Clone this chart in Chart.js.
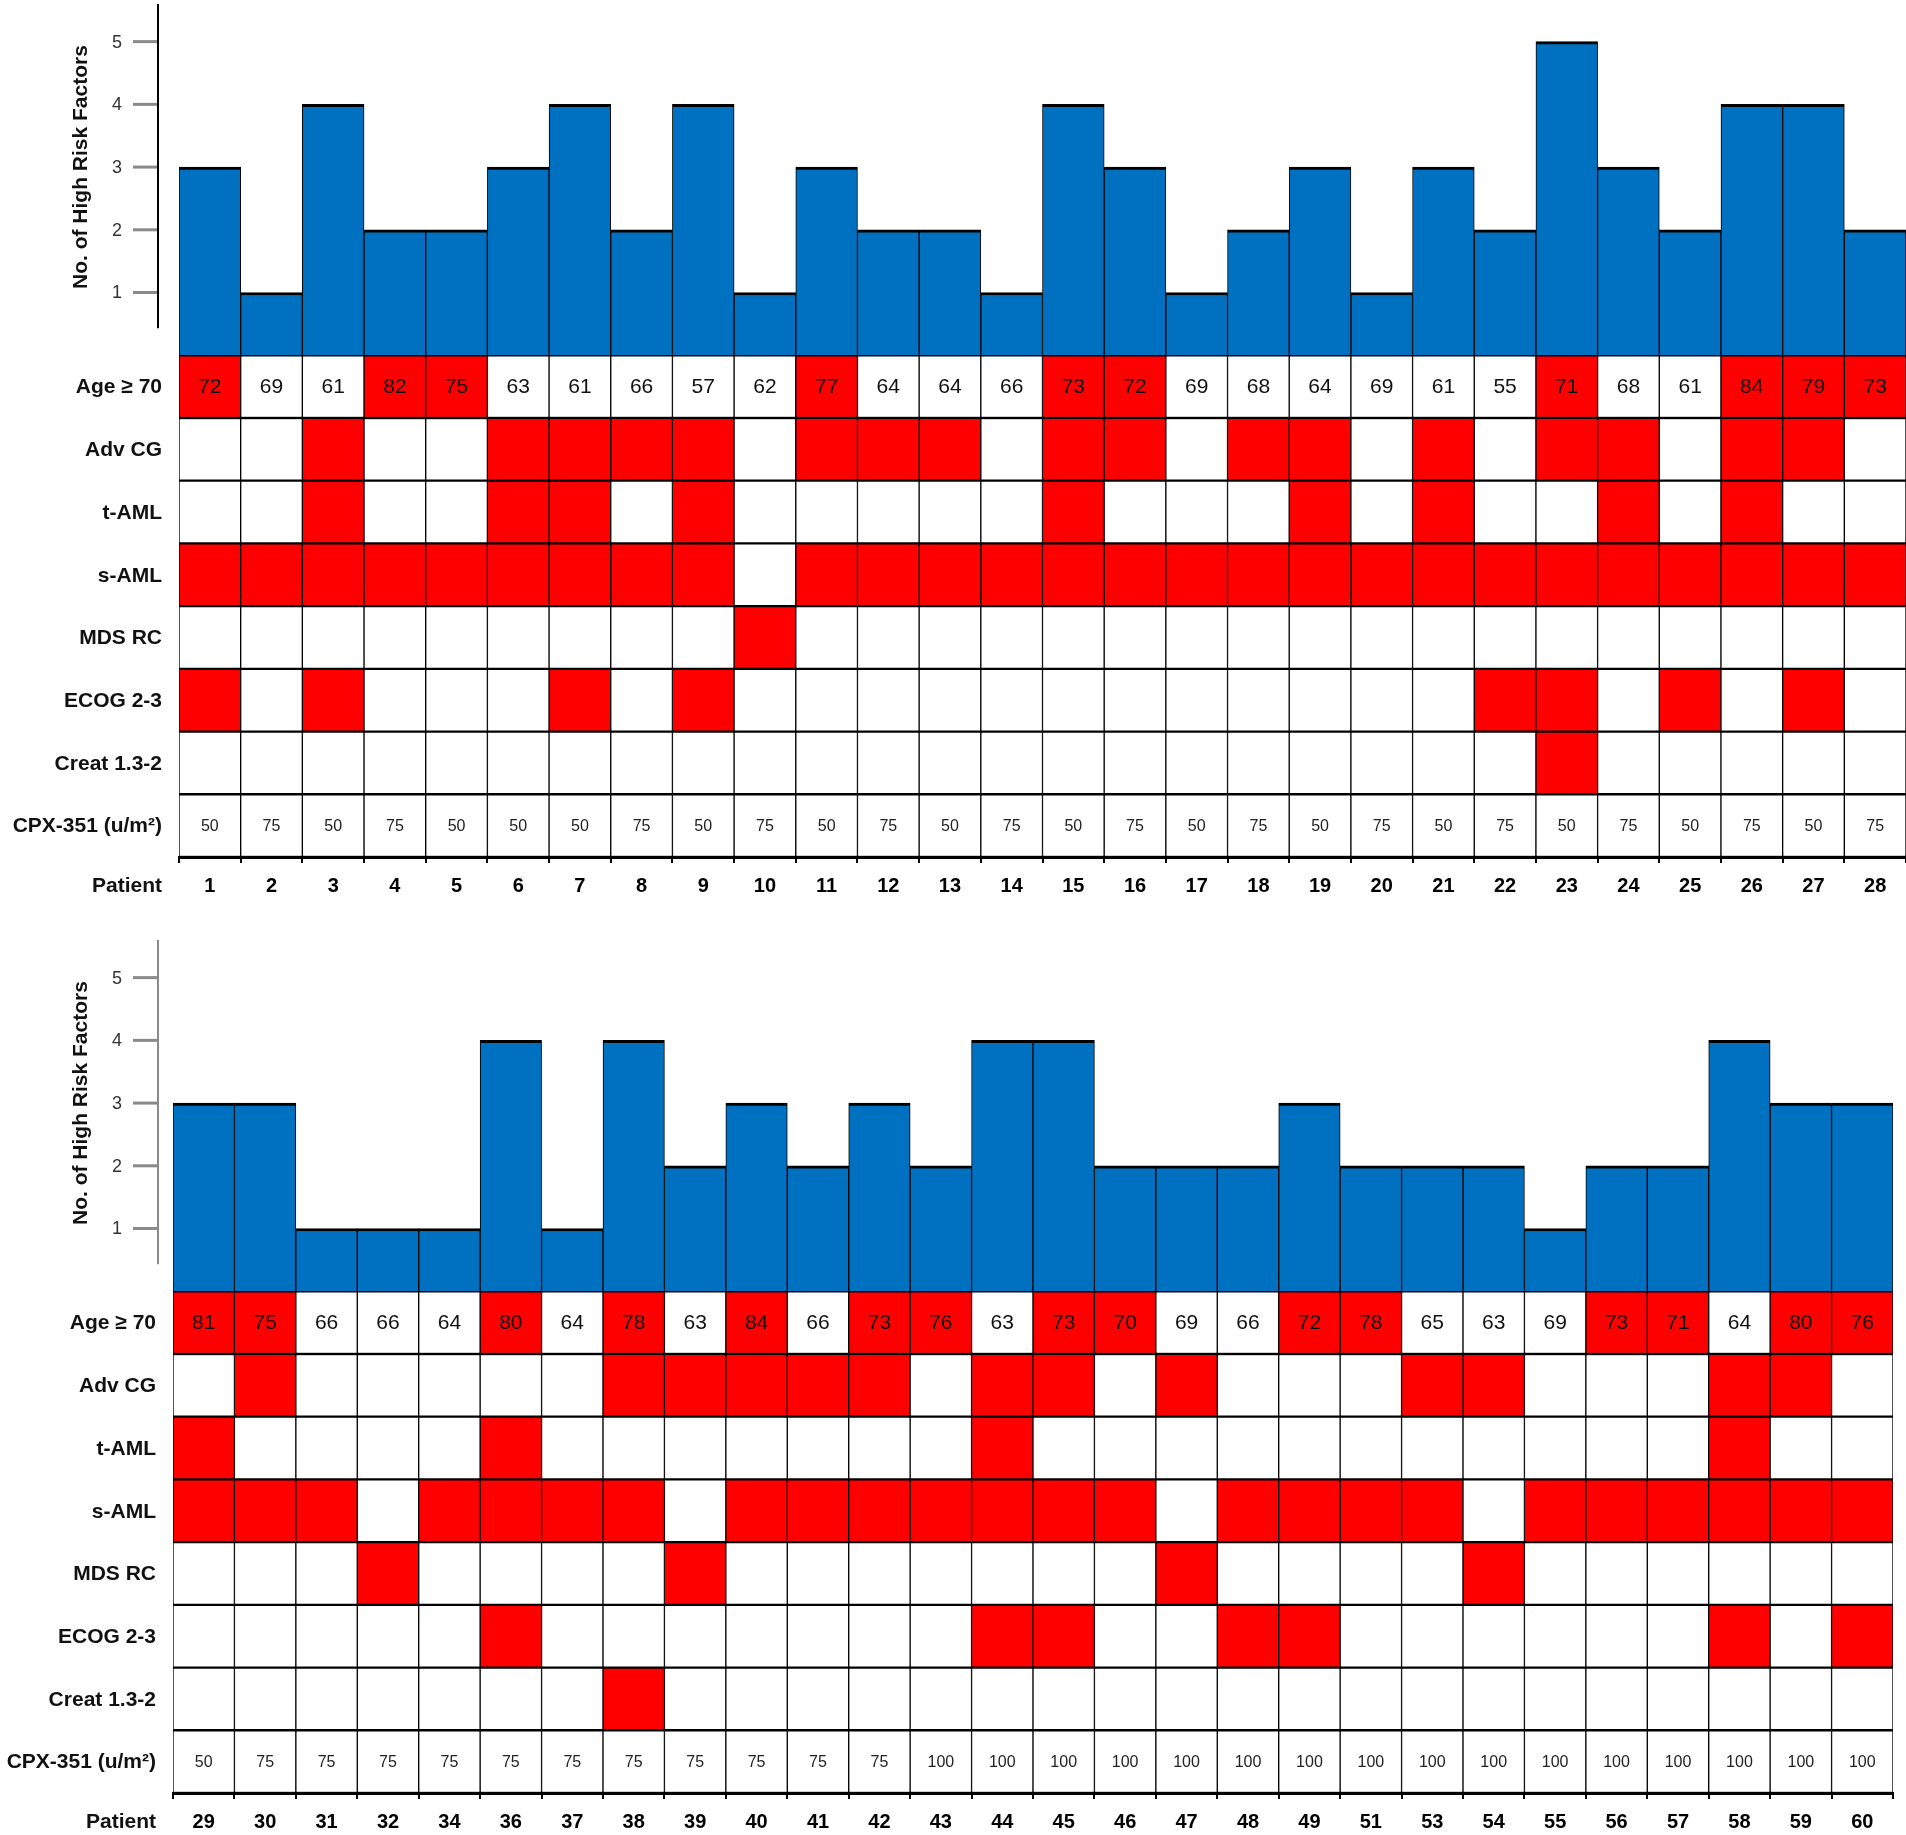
<!DOCTYPE html>
<html>
<head>
<meta charset="utf-8">
<script src="https://cdn.jsdelivr.net/npm/chart.js@4.4.1/dist/chart.umd.min.js"></script>
<style>
  html, body { margin: 0; padding: 0; background: #fff; }
  body { width: 1906px; height: 1835px; position: relative; overflow: hidden; }
  canvas { position: absolute; left: 0; }
  #panelTop { top: 0; }
  #panelBottom { top: 905px; }
</style>
</head>
<body>
<canvas id="panelTop" width="1906" height="905"></canvas>
<canvas id="panelBottom" width="1906" height="930"></canvas>
<script>
// row names of the risk grid (top to bottom)
const rowLabels = ['Age \u2265 70', 'Adv CG', 't-AML', 's-AML', 'MDS RC', 'ECOG 2-3', 'Creat 1.3-2', 'CPX-351 (u/m\u00B2)'];
const yTicks = [1, 2, 3, 4, 5];

// top panel: patients 1-28
const patients1 = ['1','2','3','4','5','6','7','8','9','10','11','12','13','14','15','16','17','18','19','20','21','22','23','24','25','26','27','28'];
const risk1   = [3,1,4,2,2,3,4,2,4,1,3,2,2,1,4,3,1,2,3,1,3,2,5,3,2,4,4,2];
const age1    = [72,69,61,82,75,63,61,66,57,62,77,64,64,66,73,72,69,68,64,69,61,55,71,68,61,84,79,73];
const advCG1  = [0,0,1,0,0,1,1,1,1,0,1,1,1,0,1,1,0,1,1,0,1,0,1,1,0,1,1,0];
const tAML1   = [0,0,1,0,0,1,1,0,1,0,0,0,0,0,1,0,0,0,1,0,1,0,0,1,0,1,0,0];
const sAML1   = [1,1,1,1,1,1,1,1,1,0,1,1,1,1,1,1,1,1,1,1,1,1,1,1,1,1,1,1];
const mdsRC1  = [0,0,0,0,0,0,0,0,0,1,0,0,0,0,0,0,0,0,0,0,0,0,0,0,0,0,0,0];
const ecog1   = [1,0,1,0,0,0,1,0,1,0,0,0,0,0,0,0,0,0,0,0,0,1,1,0,1,0,1,0];
const creat1  = [0,0,0,0,0,0,0,0,0,0,0,0,0,0,0,0,0,0,0,0,0,0,1,0,0,0,0,0];
const cpx1    = [50,75,50,75,50,50,50,75,50,75,50,75,50,75,50,75,50,75,50,75,50,75,50,75,50,75,50,75];

// bottom panel: patients 29-60
const patients2 = ['29','30','31','32','34','36','37','38','39','40','41','42','43','44','45','46','47','48','49','51','53','54','55','56','57','58','59','60'];
const risk2   = [3,3,1,1,1,4,1,4,2,3,2,3,2,4,4,2,2,2,3,2,2,2,1,2,2,4,3,3];
const age2    = [81,75,66,66,64,80,64,78,63,84,66,73,76,63,73,70,69,66,72,78,65,63,69,73,71,64,80,76];
const advCG2  = [0,1,0,0,0,0,0,1,1,1,1,1,0,1,1,0,1,0,0,0,1,1,0,0,0,1,1,0];
const tAML2   = [1,0,0,0,0,1,0,0,0,0,0,0,0,1,0,0,0,0,0,0,0,0,0,0,0,1,0,0];
const sAML2   = [1,1,1,0,1,1,1,1,0,1,1,1,1,1,1,1,0,1,1,1,1,0,1,1,1,1,1,1];
const mdsRC2  = [0,0,0,1,0,0,0,0,1,0,0,0,0,0,0,0,1,0,0,0,0,1,0,0,0,0,0,0];
const ecog2   = [0,0,0,0,0,1,0,0,0,0,0,0,0,1,1,0,0,1,1,0,0,0,0,0,0,1,0,1];
const creat2  = [0,0,0,0,0,0,0,1,0,0,0,0,0,0,0,0,0,0,0,0,0,0,0,0,0,0,0,0];
const cpx2    = [50,75,75,75,75,75,75,75,75,75,75,75,100,100,100,100,100,100,100,100,100,100,100,100,100,100,100,100];

const BLUE = '#0070C0';
const RED = '#FF0000';
const FONT = '"Liberation Sans", Arial, sans-serif';

// decorations: y axis line + ticks, axis title, row labels, cell texts
function panelDeco(p) {
  return {
    id: 'panelDeco',
    afterDatasetsDraw(chart) {
      const ctx = chart.ctx;
      const y = chart.scales.y;
      ctx.save();
      ctx.textAlign = 'center';
      ctx.textBaseline = 'middle';
      ctx.font = '21px ' + FONT;
      chart.getDatasetMeta(1).data.forEach((bar, i) => {
        ctx.fillStyle = '#111';
        ctx.fillText(String(p.ages[i]), bar.x, y.getPixelForValue(-0.5) + 1);
      });
      ctx.font = '16px ' + FONT;
      chart.getDatasetMeta(8).data.forEach((bar, i) => {
        ctx.fillStyle = '#222';
        ctx.fillText(String(p.cpx[i]), bar.x, y.getPixelForValue(-7.5) + 1);
      });
      ctx.restore();
    },
    afterDraw(chart) {
      const ctx = chart.ctx;
      const y = chart.scales.y;
      const area = chart.chartArea;
      ctx.save();
      // axis line (stops short of zero, as in the figure)
      ctx.strokeStyle = p.axisColor;
      ctx.lineWidth = 2;
      ctx.beginPath();
      ctx.moveTo(158, y.getPixelForValue(5.6));
      ctx.lineTo(158, y.getPixelForValue(0.43));
      ctx.stroke();
      // tick marks and tick labels
      ctx.font = '18px ' + FONT;
      ctx.textAlign = 'right';
      ctx.textBaseline = 'middle';
      yTicks.forEach(v => {
        const py = y.getPixelForValue(v);
        ctx.strokeStyle = '#8a8a8a';
        ctx.lineWidth = 3;
        ctx.beginPath();
        ctx.moveTo(133, py);
        ctx.lineTo(157, py);
        ctx.stroke();
        ctx.fillStyle = '#333';
        ctx.fillText(String(v), 122, py + 1);
      });
      // axis title
      ctx.fillStyle = '#111';
      ctx.font = 'bold 21px ' + FONT;
      ctx.textAlign = 'center';
      ctx.translate(81, y.getPixelForValue(3));
      ctx.rotate(-Math.PI / 2);
      ctx.fillText('No. of High Risk Factors', 0, 0);
      ctx.setTransform(1, 0, 0, 1, 0, 0);
      // row labels
      ctx.textAlign = 'right';
      ctx.font = 'bold 21px ' + FONT;
      const lx = area.left - 17;
      rowLabels.forEach((lab, r) => {
        ctx.fillText(lab, lx, y.getPixelForValue(-r - 0.5) + 1);
      });
      ctx.fillText('Patient', lx, area.bottom + 29);
      ctx.restore();
    }
  };
}

function makePanel(id, p) {
  const flagRows = [p.ages.map(a => a >= 70 ? 1 : 0), p.advCG, p.tAML, p.sAML, p.mdsRC, p.ecog, p.creat, p.patients.map(() => 0)];
  const datasets = [{
    data: p.risk,
    backgroundColor: BLUE,
    borderColor: '#000',
    borderWidth: { top: 3, left: 1, right: 1, bottom: 0 },
    borderSkipped: false,
    grouped: false,
    barPercentage: 1,
    categoryPercentage: 1
  }];
  flagRows.forEach((flags, r) => {
    datasets.push({
      data: flags.map(() => [-(r + 1), -r]),
      backgroundColor: flags.map(f => f ? RED : '#fff'),
      borderColor: '#000',
      borderWidth: { top: 1.5, bottom: 1.5, left: 1, right: 1 },
      borderSkipped: false,
      grouped: false,
      barPercentage: 1,
      categoryPercentage: 1
    });
  });

  return new Chart(document.getElementById(id), {
    type: 'bar',
    data: { labels: p.patients, datasets: datasets },
    options: {
      responsive: false,
      animation: false,
      layout: { padding: { top: p.padTop, right: p.padRight, bottom: 0, left: 0 } },
      plugins: { legend: { display: false }, tooltip: { enabled: false } },
      scales: {
        x: {
          type: 'category',
          grid: { display: true, drawOnChartArea: false, drawTicks: true, tickLength: 6, color: '#000', lineWidth: 2, offset: true },
          border: { display: true, color: '#000', width: 3 },
          ticks: { color: '#000', font: { family: FONT, size: 20, weight: 'bold' }, padding: 11, maxRotation: 0, autoSkip: false },
          afterFit: s => { s.height = p.xHeight; }
        },
        y: {
          min: -8,
          max: 5.6,
          grid: { display: false },
          border: { display: false },
          ticks: { display: false, stepSize: 1, padding: 0 },
          afterFit: s => { s.width = p.left; }
        }
      }
    },
    plugins: [panelDeco(p)]
  });
}

makePanel('panelTop', {
  patients: patients1, risk: risk1, ages: age1, advCG: advCG1, tAML: tAML1, sAML: sAML1,
  mdsRC: mdsRC1, ecog: ecog1, creat: creat1, cpx: cpx1,
  left: 179, padTop: 4, padRight: 0, xHeight: 48, axisColor: '#000'
});

makePanel('panelBottom', {
  patients: patients2, risk: risk2, ages: age2, advCG: advCG2, tAML: tAML2, sAML: sAML2,
  mdsRC: mdsRC2, ecog: ecog2, creat: creat2, cpx: cpx2,
  left: 173, padTop: 35, padRight: 13, xHeight: 42, axisColor: '#8a8a8a'
});
</script>
</body>
</html>
